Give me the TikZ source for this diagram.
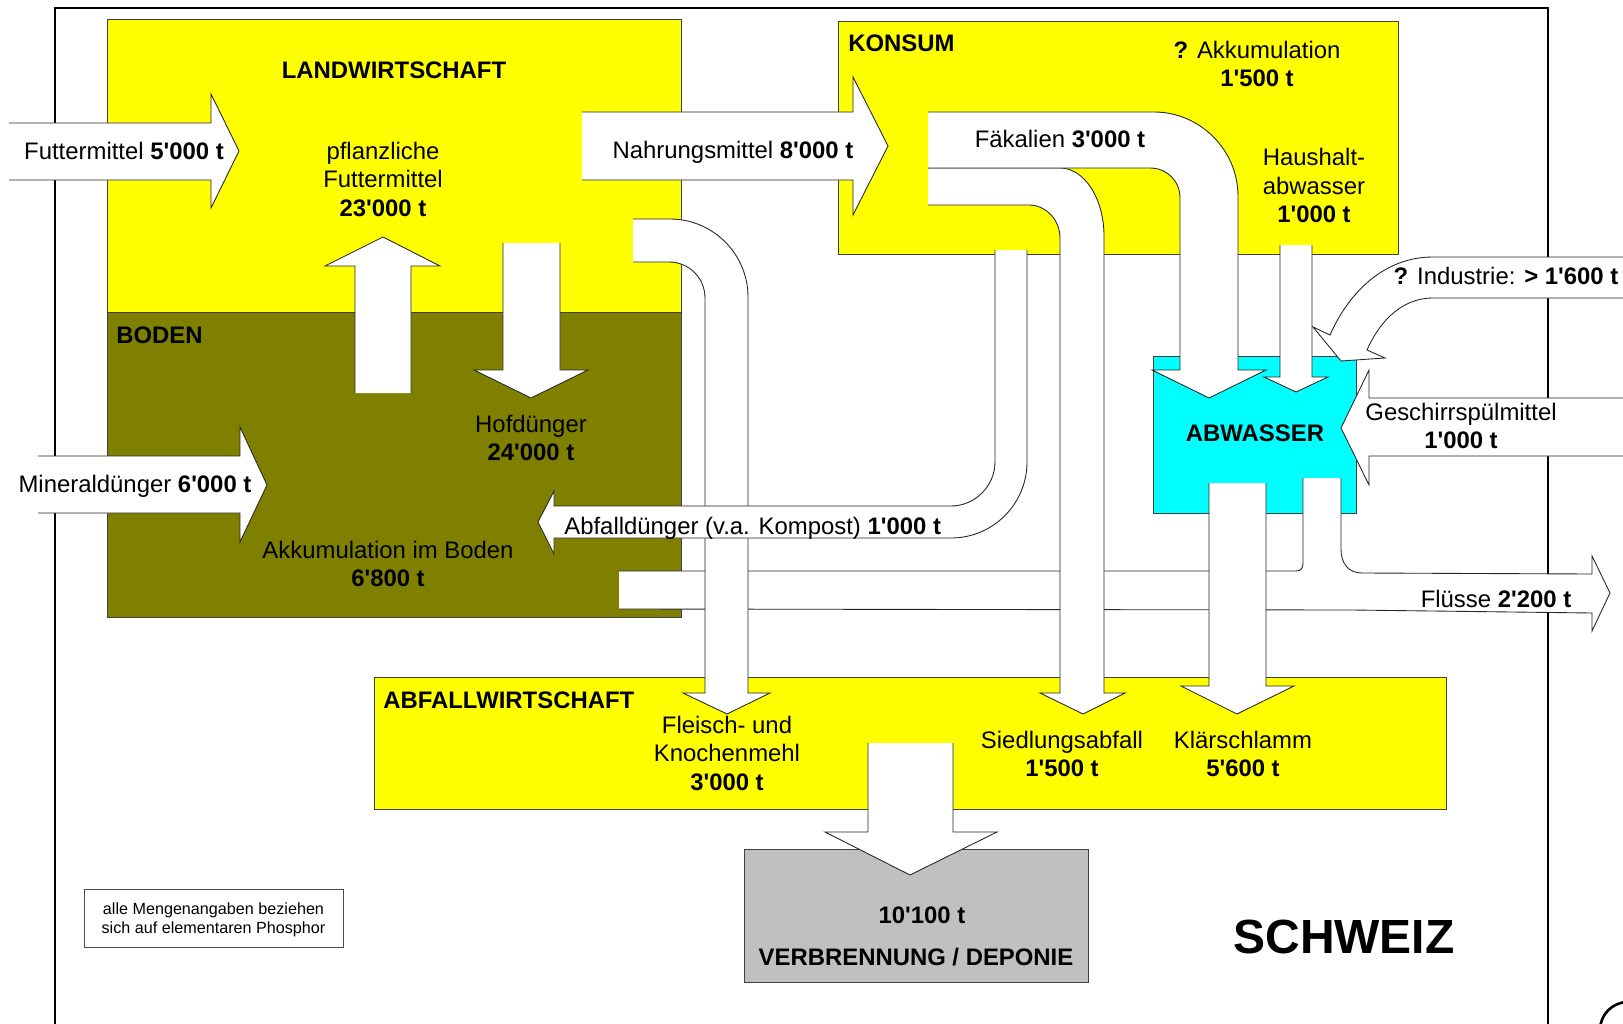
\documentclass[tikz,border=0pt]{standalone}
\usepackage{fontspec}
\setmainfont{Liberation Sans}[Ligatures=TeXOff]
\usepackage{tikz}
\definecolor{lwgelb}{HTML}{FFFF00}
\definecolor{bodenoliv}{HTML}{808000}
\definecolor{abwcyan}{HTML}{00FFFF}
\definecolor{deponiegrau}{HTML}{C0C0C0}
\tikzstyle{frame} = [draw=black, line width=1.5pt]
\tikzstyle{box} = [draw=black!75, line width=0.5pt]
\tikzstyle{flow} = [fill=white, draw=black!85, line width=0.5pt]
\tikzstyle{flowedge} = [draw=black!85, line width=0.5pt]
\tikzstyle{lbl} = [inner sep=0pt, font=\fontsize{13.6}{16.4}\selectfont]
\tikzstyle{lblc} = [lbl, align=center]
\tikzstyle{title} = [inner sep=0pt, font=\fontsize{13.6}{16.4}\selectfont\bfseries]

\begin{document}
\begin{tikzpicture}[x=0.02cm, y=-0.02cm]
\useasboundingbox (0,0) rectangle (1623,1024);

\draw[frame] (55,1040) -- (55,8) -- (1548,8) -- (1548,1040);

\draw[box, fill=lwgelb] (107,19) rectangle (681,312);
\draw[box, fill=bodenoliv] (107,312) rectangle (681,617);
\draw[box, fill=lwgelb] (838,21) rectangle (1398,254);
\draw[box, fill=abwcyan] (1153,356) rectangle (1356,513);
\draw[box, fill=lwgelb] (374,677) rectangle (1446,809);
\draw[box, fill=deponiegrau] (744,849) rectangle (1088,982);
\draw[box, draw=black!70] (84,889) rectangle (343,947);

\path[flow] (9,123) -- (211,123) -- (211,94) -- (239,151) -- (211,208) -- (211,180) -- (9,180);
\path[flow] (38,456) -- (240,456) -- (240,427) -- (267,485) -- (240,542) -- (240,513) -- (38,513);
\path[flow] (355,393) -- (355,266) -- (325,266) -- (383,237) -- (440,266) -- (411,266) -- (411,393);
\path[flow] (503,243) -- (503,370) -- (474,370) -- (531,398) -- (588,370) -- (560,370) -- (560,243);

\fill[white] (619,571) -- (1296,571) .. controls (1301,571) and (1303,568) .. (1303,563) -- (1303,478) -- (1341,478) -- (1341,549) .. controls (1341,563) and (1348,573) .. (1362,573) -- (1592,574) -- (1592,556) -- (1610,593) -- (1592,631) -- (1592,613) -- (1352,610) -- (619,609) -- cycle;
\draw[flowedge] (619,571) -- (1296,571) .. controls (1301,571) and (1303,568) .. (1303,563) -- (1303,478);
\draw[flowedge] (1341,478) -- (1341,549) .. controls (1341,563) and (1348,573) .. (1362,573) -- (1592,574) -- (1592,556) -- (1610,593) -- (1592,631) -- (1592,613) -- (1352,610) -- (619,609);

\path[flow] (582,112) -- (853,112) -- (853,77) -- (888,146) -- (853,215) -- (853,180) -- (582,180);
\path[flow] (633,219) -- (670,219) .. controls (713,219) and (748,254) .. (748,297) -- (748,693) -- (770,693) -- (727,714) -- (683,693) -- (705,693) -- (705,298) .. controls (705,278) and (689,262) .. (669,262) -- (633,262);
\path[flow] (928,168) -- (1060,168) .. controls (1084,168) and (1104,198) .. (1104,236) -- (1104,693) -- (1125,693) -- (1083,714) -- (1040,693) -- (1060,693) -- (1060,238) .. controls (1060,220) and (1046,205) .. (1029,205) -- (928,205);
\path[flow] (928,112) -- (1154,112) .. controls (1200,112) and (1238,150) .. (1238,196) -- (1238,370) -- (1266,370) -- (1209,398) -- (1152,370) -- (1180,370) -- (1180,198) .. controls (1180,181) and (1167,168) .. (1150,168) -- (928,168);
\path[flow] (995,250) -- (995,462) .. controls (995,486) and (975,506) .. (951,506) -- (554,506) -- (554,491) -- (538,522) -- (554,554) -- (554,538) -- (951,538) .. controls (993,538) and (1027,504) .. (1027,462) -- (1027,250);
\path[flow] (1209,483) -- (1209,686) -- (1181,686) -- (1237,714) -- (1294,686) -- (1266,686) -- (1266,483);
\path[flow] (1280,245) -- (1280,377) -- (1264,377) -- (1296,392) -- (1328,377) -- (1312,377) -- (1312,245);
\path[flow] (868,743) -- (868,832) -- (825,832) -- (910,875) -- (997,832) -- (953,832) -- (953,743);
\path[flow] (1630,398) -- (1369,398) -- (1369,370) -- (1341,428) -- (1369,485) -- (1369,456) -- (1630,456);
\path[flow] (1630,257) -- (1433,257) .. controls (1383,257) and (1348,294) .. (1330,335) -- (1313,327) -- (1341,361) -- (1385,358) -- (1367,350) .. controls (1377,327) and (1398,298) .. (1433,298) -- (1630,298);

\node (lwtxt) [title] at (394,70.5) {LANDWIRTSCHAFT};
\node (bodentxt) [title, anchor=west] at (116,335) {BODEN};
\node (konsumtxt) [title, anchor=west] at (848,43.5) {KONSUM};
\node (abwtxt) [title] at (1255,433.5) {ABWASSER};
\node (abfalltxt) [title, anchor=west] at (383,700) {ABFALLWIRTSCHAFT};

\node (futtertxt) [lbl, anchor=base] at (124,159) {Futtermittel \textbf{5'000 t}};
\node (minertxt) [lbl, anchor=base] at (135,492) {Mineraldünger \textbf{6'000 t}};
\node (nahrtxt) [lbl, anchor=base] at (733,158) {Nahrungsmittel \textbf{8'000 t}};
\node (faektxt) [lbl, anchor=base] at (1060,148) {Fäkalien \textbf{3'000 t}};
\node (komptxt) [lbl, anchor=base west] at (564,534) {Abfalldünger (v.a. Kompost) \textbf{1'000 t}};
\node (indtxt) [lbl, anchor=base] at (1506,284) {\textbf{?} Industrie: \textbf{> 1'600 t}};
\node (fluestxt) [lbl, anchor=base] at (1496,607) {Flüsse \textbf{2'200 t}};

\node (pflanztxt) [lblc] at (383,179.4) {pflanzliche\\Futtermittel\\\textbf{23'000 t}};
\node (hoftxt) [lblc] at (531,438) {Hofdünger\\\textbf{24'000 t}};
\node (akkbtxt) [lblc] at (388,564) {Akkumulation im Boden\\\textbf{6'800 t}};
\node (fleischtxt) [lblc] at (727,753.4) {Fleisch- und\\Knochenmehl\\\textbf{3'000 t}};
\node (siedltxt) [lblc] at (1062,754) {Siedlungsabfall\\\textbf{1'500 t}};
\node (klaertxt) [lblc] at (1243,754) {Klärschlamm\\\textbf{5'600 t}};
\node (haustxt) [lblc] at (1314,185.6) {Haushalt-\\abwasser\\\textbf{1'000 t}};
\node (akkktxt) [lblc] at (1257,64) {\textbf{?} Akkumulation\\\textbf{1'500 t}};
\node (geschtxt) [lblc] at (1461,426) {Geschirrspülmittel\\\textbf{1'000 t}};

\node (mengetxt) [lbl, align=center, font=\fontsize{9.2}{10.8}\selectfont] at (213.5,919.7) {alle Mengenangaben beziehen\\sich auf elementaren Phosphor};
\node (depmenge) [lbl, anchor=base] at (922,923) {\textbf{10'100 t}};
\node (deptxt) [title, anchor=base] at (916,965) {VERBRENNUNG / DEPONIE};
\node (schweiz) [inner sep=0pt, anchor=base, font=\fontsize{27.3}{32}\selectfont\bfseries] at (1344,953) {SCHWEIZ};

\draw[frame] (1628,1030) circle [radius=28];

\end{tikzpicture}
\end{document}
